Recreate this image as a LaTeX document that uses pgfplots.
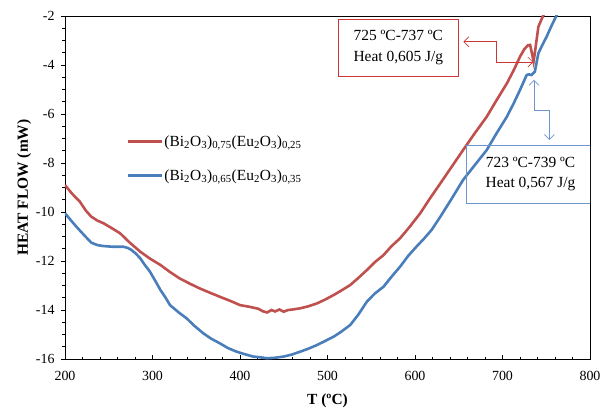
\documentclass[border=0pt]{standalone}
\usepackage{pgfplots}
\pgfplotsset{compat=1.18}
\usepackage{fontspec}
\setmainfont{Liberation Serif}
\usetikzlibrary{arrows.meta}
\definecolor{redc}{RGB}{192,80,77}
\definecolor{bluec}{RGB}{74,126,187}
\definecolor{boxred}{RGB}{205,55,55}
\definecolor{boxblue}{RGB}{110,150,205}
\begin{document}
\begin{tikzpicture}
\useasboundingbox (-65bp,-55bp) rectangle (537bp,359bp);
\begin{axis}[
  at={(0,0)}, anchor=south west,
  scale only axis, width=525bp, height=343bp,
  xmin=200, xmax=800, ymin=-16, ymax=-2,
  xtick={200,300,...,800}, ytick={-16,-14,...,-2},
  minor x tick num=4, minor y tick num=3,
  xtick pos=lower, ytick pos=left,
  tick align=inside,
  major tick length=4bp, minor tick length=2.5bp,
  every major y tick/.append style={xshift=-4bp},
  every minor y tick/.append style={xshift=-2.5bp},
  tick style={black, line width=0.6bp},
  axis line style={line width=0.8bp},
  /pgf/number format/assume math mode=true,
  ticklabel style={font=\fontsize{14}{16}\selectfont},
  xticklabel style={yshift=-9bp},
  yticklabel style={xshift=-7bp},
  xlabel={\textbf{T (ºC)}}, ylabel={\textbf{HEAT FLOW (mW)}},
  label style={font=\fontsize{15.5}{18}\selectfont},
  xlabel style={yshift=-6bp},
  ylabel style={yshift=-2bp},
  legend style={at={(axis cs:270.5,-7.82)}, anchor=west, draw=none, fill=none,
    font=\fontsize{15.5}{18}\selectfont, row sep=20bp, inner sep=0pt,
    nodes={inner sep=1bp}},
  legend cell align=left,
  legend image code/.code={\draw[#1, line width=2.6bp] (0bp,0bp) -- (34bp,0bp);},
]
\addplot[redc, line width=2.6bp] coordinates {
(200,-8.9) (208,-9.25) (217,-9.58) (224,-9.95) (230,-10.19) (237,-10.35)
(244,-10.46) (253,-10.65) (263,-10.87) (274,-11.25) (286,-11.62) (297,-11.9)
(309,-12.16) (320,-12.45) (331,-12.71) (343,-12.93) (354,-13.12) (366,-13.3)
(377,-13.46) (389,-13.63) (400,-13.8) (411,-13.87) (421,-13.95) (426,-14.05)
(431,-14.1) (436,-14.0) (440,-14.06) (445,-13.98) (450,-14.07) (455,-14.0)
(460,-13.98) (469,-13.93) (478,-13.85) (488,-13.73) (497,-13.58) (507,-13.39)
(516,-13.2) (526,-12.98) (535,-12.7) (545,-12.37) (554,-12.05) (564,-11.76)
(573,-11.4) (583,-11.07) (594,-10.6) (606,-10.05) (617,-9.45) (629,-8.83)
(642,-8.15) (655,-7.47) (668,-6.8) (682,-6.11) (693,-5.45) (705,-4.75)
(713,-4.2) (720,-3.66) (725,-3.35) (729,-3.2) (731.5,-3.18) (733.5,-3.5)
(735.5,-3.85) (737,-3.5) (738.5,-3.1) (741,-2.44) (745,-2.1) (749,-1.8) (755,-1.4)
};
\addlegendentry{(Bi\textsubscript{2}O\textsubscript{3})\textsubscript{0,75}(Eu\textsubscript{2}O\textsubscript{3})\textsubscript{0,25}}
\addplot[bluec, line width=2.6bp] coordinates {
(200,-10.05) (207,-10.35) (213,-10.6) (222,-10.95) (230,-11.25) (237,-11.35)
(244,-11.39) (255,-11.42) (267,-11.42) (272,-11.47) (276,-11.55) (281,-11.7)
(286,-11.89) (291,-12.15) (297,-12.43) (303,-12.8) (309,-13.18) (315,-13.5)
(320,-13.8) (330,-14.1) (339,-14.34) (348,-14.65) (358,-14.95) (367,-15.17)
(377,-15.36) (386,-15.55) (396,-15.7) (405,-15.8) (415,-15.9) (423,-15.93)
(431,-15.97) (440,-15.95) (450,-15.9) (459,-15.82) (469,-15.7) (478,-15.58)
(488,-15.43) (497,-15.27) (507,-15.09) (516,-14.88) (526,-14.61) (535,-14.2)
(545,-13.66) (554,-13.33) (564,-13.05) (573,-12.65) (583,-12.23) (592,-11.8)
(602,-11.4) (610,-11.1) (619,-10.73) (629,-10.19) (642,-9.45) (655,-8.69)
(668,-8.1) (682,-7.47) (693,-6.8) (705,-6.11) (713,-5.55) (720,-5.02)
(727.6,-4.41) (730,-4.38) (733,-4.41) (737,-4.27) (741,-3.52) (746,-3.15)
(750.5,-2.84) (756,-2.4) (762,-1.96) (768,-1.6)
};
\addlegendentry{(Bi\textsubscript{2}O\textsubscript{3})\textsubscript{0,65}(Eu\textsubscript{2}O\textsubscript{3})\textsubscript{0,35}}
% annotations
\draw[boxred, line width=0.8bp] (axis cs:512.3,-2.13) rectangle (axis cs:649.5,-4.48);
\node[align=center, font=\fontsize{15.5}{21}\selectfont] at (axis cs:581,-3.3) {725 ºC-737 ºC\\Heat 0,605 J/g};
\draw[boxred, line width=0.7bp, {Straight Barb[length=5bp,width=10bp]}-{Straight Barb[length=5bp,width=10bp]}]
  (axis cs:655.2,-3.05) -- (axis cs:693.4,-3.05) -- (axis cs:693.4,-3.88) -- (axis cs:735.2,-3.88);
\draw[boxblue, line width=0.8bp] (axis cs:659.1,-7.27) rectangle (axis cs:800,-9.64);
\node[align=center, font=\fontsize{15.5}{21}\selectfont] at (axis cs:732,-8.45) {723 ºC-739 ºC\\Heat 0,567 J/g};
\draw[boxblue, line width=0.7bp, {Straight Barb[length=5bp,width=10bp]}-{Straight Barb[length=5bp,width=10bp]}]
  (axis cs:736,-4.61) -- (axis cs:736,-5.84) -- (axis cs:753.5,-5.84) -- (axis cs:753.5,-7.06);
\end{axis}
\end{tikzpicture}
\end{document}
